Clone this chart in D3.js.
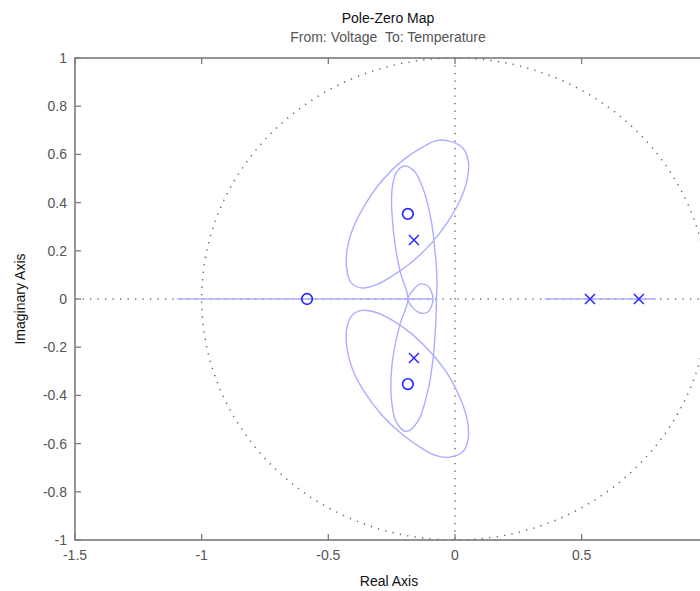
<!DOCTYPE html>
<html>
<head>
<meta charset="utf-8">
<script src="https://cdn.jsdelivr.net/npm/d3@7"></script>
<style>
  html, body { margin: 0; padding: 0; background: #fff; }
  svg { display: block; }
  text { font-family: "Liberation Sans", Arial, sans-serif; white-space: pre; }
</style>
</head>
<body>
<svg id="chart" width="700" height="591"></svg>
<script>
// ---------------- data ----------------
const titleText = "Pole-Zero Map";
const subtitleText = "From: Voltage  To: Temperature";
const xLabelText = "Real Axis";
const yLabelText = "Imaginary Axis";

const xTicks = [-1.5, -1, -0.5, 0, 0.5, 1];
// the label of the last tick (1) lies outside the visible picture
const xTickLabels = ["-1.5", "-1", "-0.5", "0", "0.5"];
const yTicks = [-1, -0.8, -0.6, -0.4, -0.2, 0, 0.2, 0.4, 0.6, 0.8, 1];
const yTickLabels = ["-1", "-0.8", "-0.6", "-0.4", "-0.2", "0", "0.2", "0.4", "0.6", "0.8", "1"];

// poles (x markers) and zeros (o markers): [real, imag]
const poles = [[-0.162, 0.245], [-0.162, -0.245], [0.533, 0], [0.726, 0]];
const zeros = [[-0.186, 0.353], [-0.186, -0.353], [-0.584, 0]];

// light-blue locus curves: [real, imag]
const lineLeft = [[-1.097, 0], [-0.087, 0]];
const lineRight = [[0.355, 0], [0.794, 0]];
const bigUpper = [
  [-0.026, 0.656], [0.030, 0.628], [0.053, 0.570], [0.047, 0.490], [0.020, 0.410],
  [-0.030, 0.318], [-0.090, 0.235], [-0.165, 0.158], [-0.244, 0.098], [-0.310, 0.060],
  [-0.370, 0.046], [-0.410, 0.068], [-0.428, 0.130], [-0.425, 0.210], [-0.400, 0.300],
  [-0.350, 0.400], [-0.285, 0.495], [-0.210, 0.572], [-0.125, 0.632], [-0.070, 0.658]
];
const bigLower = [
  [-0.428, -0.125], [-0.405, -0.066], [-0.365, -0.047], [-0.305, -0.058], [-0.240, -0.093],
  [-0.165, -0.150], [-0.090, -0.228], [-0.025, -0.318], [0.022, -0.415], [0.048, -0.500],
  [0.052, -0.580], [0.030, -0.635], [-0.020, -0.656], [-0.075, -0.650], [-0.130, -0.620],
  [-0.210, -0.560], [-0.290, -0.480], [-0.355, -0.390], [-0.405, -0.290], [-0.426, -0.205]
];
const narrowLoop = [
  [-0.186, 0], [-0.217, 0.116], [-0.243, 0.282], [-0.249, 0.448], [-0.232, 0.524],
  [-0.200, 0.552], [-0.160, 0.530], [-0.120, 0.440], [-0.093, 0.320], [-0.078, 0.190],
  [-0.071, 0.080], [-0.073, 0], [-0.076, -0.100], [-0.086, -0.245], [-0.107, -0.380],
  [-0.145, -0.505], [-0.190, -0.550], [-0.232, -0.510], [-0.252, -0.400], [-0.246, -0.250],
  [-0.217, -0.104]
];
const smallLoop = [
  [-0.186, 0], [-0.162, 0.041], [-0.138, 0.062], [-0.107, 0.054], [-0.091, 0.025],
  [-0.087, 0], [-0.091, -0.025], [-0.107, -0.054], [-0.138, -0.058], [-0.162, -0.041]
];
// unit circle reference (dotted)
const unitRadius = 1;

// ---------------- drawing ----------------
const svg = d3.select("#chart");
const mLeft = 75, mTop = 58, mBottom = 540;
const x = d3.scaleLinear().domain([-1.5, 1]).range([mLeft, 708.3]);
const y = d3.scaleLinear().domain([-1, 1]).range([mBottom, mTop]);
const mRight = x(1);

const gray = "#7a7a7a";
const dotStyle = (sel) => sel.attr("fill", "none").attr("stroke", "#6a6a6a")
  .attr("stroke-width", 1.5).attr("stroke-dasharray", "1.3,6.2");

// dotted reference lines
const plot = svg.append("g");
plot.append("line").attr("x1", x(-1.5)).attr("x2", x(1)).attr("y1", y(0)).attr("y2", y(0)).call(dotStyle);
plot.append("line").attr("x1", x(0)).attr("x2", x(0)).attr("y1", y(1)).attr("y2", y(-1)).call(dotStyle);
plot.append("ellipse").attr("cx", x(0)).attr("cy", y(0))
  .attr("rx", x(unitRadius) - x(0)).attr("ry", y(0) - y(unitRadius)).call(dotStyle);

// locus curves
const locusColor = "#adadff";
const lineGen = d3.line().x(d => x(d[0])).y(d => y(d[1]));
const closedGen = d3.line().x(d => x(d[0])).y(d => y(d[1])).curve(d3.curveCatmullRomClosed.alpha(0.5));
[lineLeft, lineRight].forEach(pts => {
  plot.append("path").attr("d", lineGen(pts)).attr("fill", "none")
    .attr("stroke", locusColor).attr("stroke-width", 1.4);
});
[bigUpper, bigLower, narrowLoop, smallLoop].forEach(pts => {
  plot.append("path").attr("d", closedGen(pts)).attr("fill", "none")
    .attr("stroke", locusColor).attr("stroke-width", 1.4);
});

// markers
const markColor = "#2626ff";
plot.selectAll(".zero").data(zeros).join("circle")
  .attr("cx", d => x(d[0])).attr("cy", d => y(d[1])).attr("r", 5.3)
  .attr("fill", "none").attr("stroke", markColor).attr("stroke-width", 1.7);
const s = 5;
plot.selectAll(".pole").data(poles).join("path")
  .attr("d", d => {
    const cx = x(d[0]), cy = y(d[1]);
    return `M${cx - s},${cy - s}L${cx + s},${cy + s}M${cx - s},${cy + s}L${cx + s},${cy - s}`;
  })
  .attr("fill", "none").attr("stroke", markColor).attr("stroke-width", 1.5);

// axes box
const axes = svg.append("g");
axes.append("rect").attr("x", mLeft).attr("y", mTop).attr("width", mRight - mLeft).attr("height", mBottom - mTop)
  .attr("fill", "none").attr("stroke", gray).attr("stroke-width", 1.6);

const tickLen = 6;
xTicks.forEach(t => {
  axes.append("line").attr("x1", x(t)).attr("x2", x(t)).attr("y1", mBottom).attr("y2", mBottom - tickLen)
    .attr("stroke", gray).attr("stroke-width", 1.3);
  axes.append("line").attr("x1", x(t)).attr("x2", x(t)).attr("y1", mTop).attr("y2", mTop + tickLen)
    .attr("stroke", gray).attr("stroke-width", 1.3);
});
yTicks.forEach(t => {
  axes.append("line").attr("x1", mLeft).attr("x2", mLeft + tickLen).attr("y1", y(t)).attr("y2", y(t))
    .attr("stroke", gray).attr("stroke-width", 1.3);
});

const labelColor = "#555";
axes.selectAll(".xl").data(xTicks.slice(0, xTickLabels.length)).join("text")
  .attr("x", d => x(d)).attr("y", 560).attr("text-anchor", "middle")
  .attr("font-size", 14).attr("fill", labelColor)
  .text((d, i) => xTickLabels[i]);
axes.selectAll(".yl").data(yTicks).join("text")
  .attr("x", 67).attr("y", d => y(d) + 5).attr("text-anchor", "end")
  .attr("font-size", 14).attr("fill", labelColor)
  .text((d, i) => yTickLabels[i]);

// titles
svg.append("text").attr("x", 388).attr("y", 23).attr("text-anchor", "middle")
  .attr("font-size", 14).attr("fill", "#111").text(titleText);
svg.append("text").attr("x", 388).attr("y", 42).attr("text-anchor", "middle")
  .attr("font-size", 14).attr("fill", "#555").text(subtitleText);
svg.append("text").attr("x", 389).attr("y", 586).attr("text-anchor", "middle")
  .attr("font-size", 14).attr("fill", "#111").text(xLabelText);
svg.append("text").attr("transform", `translate(25,${y(0)}) rotate(-90)`).attr("text-anchor", "middle")
  .attr("font-size", 14).attr("fill", "#111").text(yLabelText);
</script>
</body>
</html>
